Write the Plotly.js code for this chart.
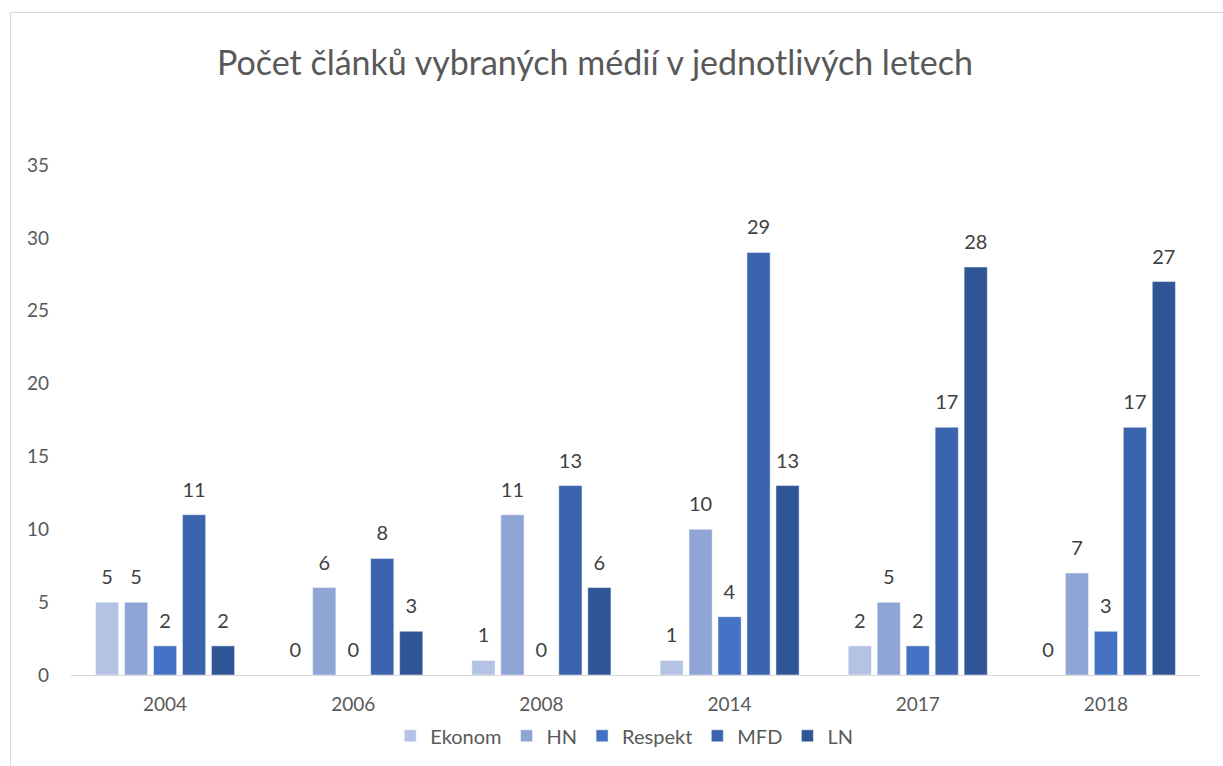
<!DOCTYPE html>
<html><head><meta charset="utf-8">
<script src="https://cdn.plot.ly/plotly-3.0.1.min.js"></script>
<style>
html,body{margin:0;padding:0;background:#fff;}
#frame{position:absolute;left:10px;top:12px;width:1240px;height:780px;border:1px solid #d9d9d9;box-sizing:border-box;}
#chart{position:absolute;left:0;top:0;width:1223px;height:766px;}
</style></head>
<body>
<div id="frame"></div>
<div id="chart"></div>
<script>
const years = ['2004','2006','2008','2014','2017','2018'];
const seriesNames = ['Ekonom','HN','Respekt','MFD','LN'];
const ekonom = [5,0,1,1,2,0];
const hn = [5,6,11,10,5,7];
const respekt = [2,0,0,4,2,3];
const mfd = [11,8,13,29,17,17];
const ln = [2,3,6,13,28,27];
const colors = ['#B4C2E4','#8FA5D6','#4472C4','#3B64AE','#2F5597'];
const values = [ekonom,hn,respekt,mfd,ln];
const font = 'Lato, "Open Sans", sans-serif';
const traces = values.map((v,i)=>({
  type:'bar', name:seriesNames[i], x:years, y:v,
  marker:{color:colors[i],line:{color:'rgba(255,255,255,0.6)',width:0.8}},
  text:v.map(String), textposition:'outside', cliponaxis:false,
  textfont:{size:20,color:'#404040',family:font},
  hoverinfo:'none'
}));
Plotly.newPlot('chart',traces,{
  width:1223,height:766,
  paper_bgcolor:'rgba(0,0,0,0)',plot_bgcolor:'rgba(0,0,0,0)',
  margin:{l:71,r:23,t:165,b:90},
  barmode:'group',bargap:0.23,bargroupgap:0.2,
  title:{text:'Počet článků vybraných médií v jednotlivých letech',x:0.4865,xref:'container',xanchor:'center',y:0.917,yref:'container',yanchor:'middle',font:{size:34,color:'#595959',family:font}},
  xaxis:{type:'category',showline:true,linecolor:'#d9d9d9',linewidth:1,ticks:'',tickfont:{size:19,color:'#595959',family:font},showgrid:false,ticklabelstandoff:12},
  yaxis:{range:[0,35],dtick:5,showgrid:false,zeroline:false,showline:false,ticks:'',tickfont:{size:19,color:'#595959',family:font},ticklabelstandoff:21},
  legend:{orientation:'h',x:0.49,xanchor:'center',y:-0.117,yanchor:'middle',font:{size:20,color:'#595959',family:font},itemwidth:30,traceorder:'normal'},
  showlegend:true
},{displayModeBar:false,staticPlot:true}).then(()=>{
  document.querySelectorAll('#chart .bartext').forEach(t=>{
    const tr = t.getAttribute('transform')||'';
    t.setAttribute('transform','translate(0,-11) '+tr);
  });
});
</script>
</body></html>
